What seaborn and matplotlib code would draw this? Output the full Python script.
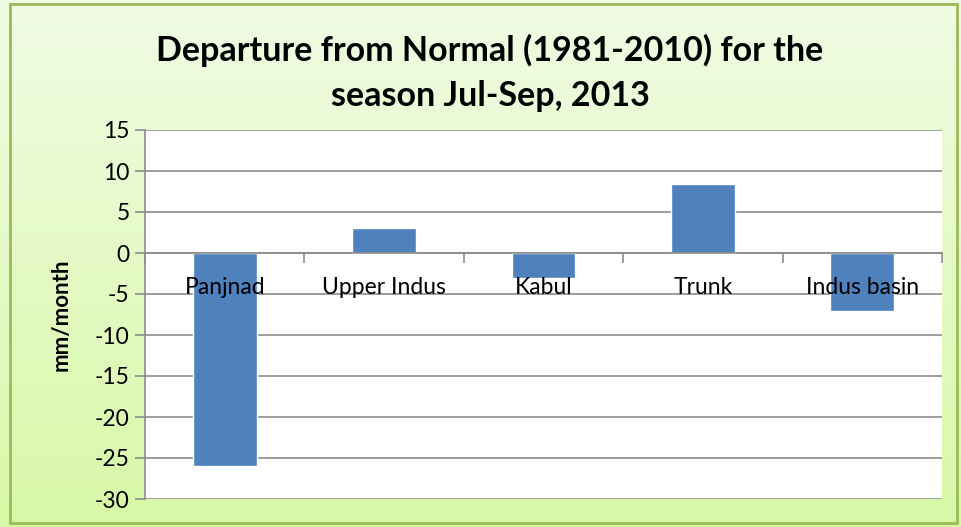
import numpy as np
import pandas as pd
import matplotlib
matplotlib.use("Agg")
import matplotlib.pyplot as plt
import matplotlib.transforms as mtrans
from matplotlib.patches import Rectangle
import seaborn as sns

categories = ["Panjnad", "Upper Indus", "Kabul", "Trunk", "Indus basin"]
values = [-26.0, 3.0, -3.1, 8.4, -7.1]
yticks = [15, 10, 5, 0, -5, -10, -15, -20, -25, -30]

sns.set_theme(style="white")
plt.rcParams["font.family"] = ["Lato", "DejaVu Sans"]
plt.rcParams["text.color"] = "black"

df = pd.DataFrame({"region": categories, "value": values})

fig = plt.figure(figsize=(9.61, 5.27), dpi=100)

# gradient background
bg = fig.add_axes([0, 0, 1, 1], zorder=-10)
top = np.array([0.945, 0.985, 0.895])
bot = np.array([0.845, 0.975, 0.655])
t = np.linspace(0, 1, 256)[:, None, None]
grad = top * (1 - t) + bot * t
grad = np.repeat(grad, 2, axis=1)
bg.imshow(grad, aspect="auto", extent=[0, 1, 0, 1], origin="upper")
bg.set_xlim(0, 1); bg.set_ylim(0, 1)
bg.axis("off")
fig.patches.append(Rectangle((10/961, 4/527), 947/961, 519/527, transform=fig.transFigure,
                             fill=False, edgecolor="#9bbb59", linewidth=2, zorder=5))

ax = fig.add_axes([145/961, 1 - 499/527, 797/961, 369/527])
ax.set_facecolor("white")
sns.barplot(data=df, x="region", y="value", color="#4f81bd", width=0.4,
            saturation=1, ax=ax, zorder=2)

ax.set_ylim(-30, 15)
ax.set_xlim(-0.5, len(categories) - 0.5)
ax.set_yticks(yticks)
ax.set_yticklabels([str(v) for v in yticks], fontsize=16.5, color="black")
ax.yaxis.grid(True, color="#8c8c8c", linewidth=1.2)
ax.set_axisbelow(True)

for s in ["top", "right"]:
    ax.spines[s].set_visible(False)
ax.spines["left"].set_color("#8c8c8c")
ax.spines["left"].set_linewidth(1.2)
ax.spines["bottom"].set_position(("data", 0))
ax.spines["bottom"].set_color("#8c8c8c")
ax.spines["bottom"].set_linewidth(1.2)

ax.tick_params(axis="y", which="both", left=True, length=7, width=1.2, color="#8c8c8c", pad=4)
ax.set_xticks(np.arange(-0.5, len(categories), 1.0), minor=True)
ax.set_xticks([])
ax.tick_params(axis="x", which="minor", bottom=True, length=7, width=1.2, color="#8c8c8c", direction="out")
ax.tick_params(axis="x", which="major", bottom=False, labelbottom=False)

offset = mtrans.offset_copy(ax.transData, fig=fig, x=0, y=-34, units="dots")
for i, c in enumerate(categories):
    ax.text(i, 0, c, transform=offset, ha="center", va="center", fontsize=16.5,
            color="black", zorder=6)

ax.set_xlabel("")
ax.set_ylabel("mm/month", fontsize=16, fontweight="bold", labelpad=17, color="black")

fig.text(490/961, 1 - 73/527, "Departure from Normal (1981-2010) for the\nseason Jul-Sep, 2013",
         ha="center", va="center", fontsize=24.5, fontweight="bold", linespacing=1.5,
         color="black")

fig.savefig("out.png", dpi=100)
